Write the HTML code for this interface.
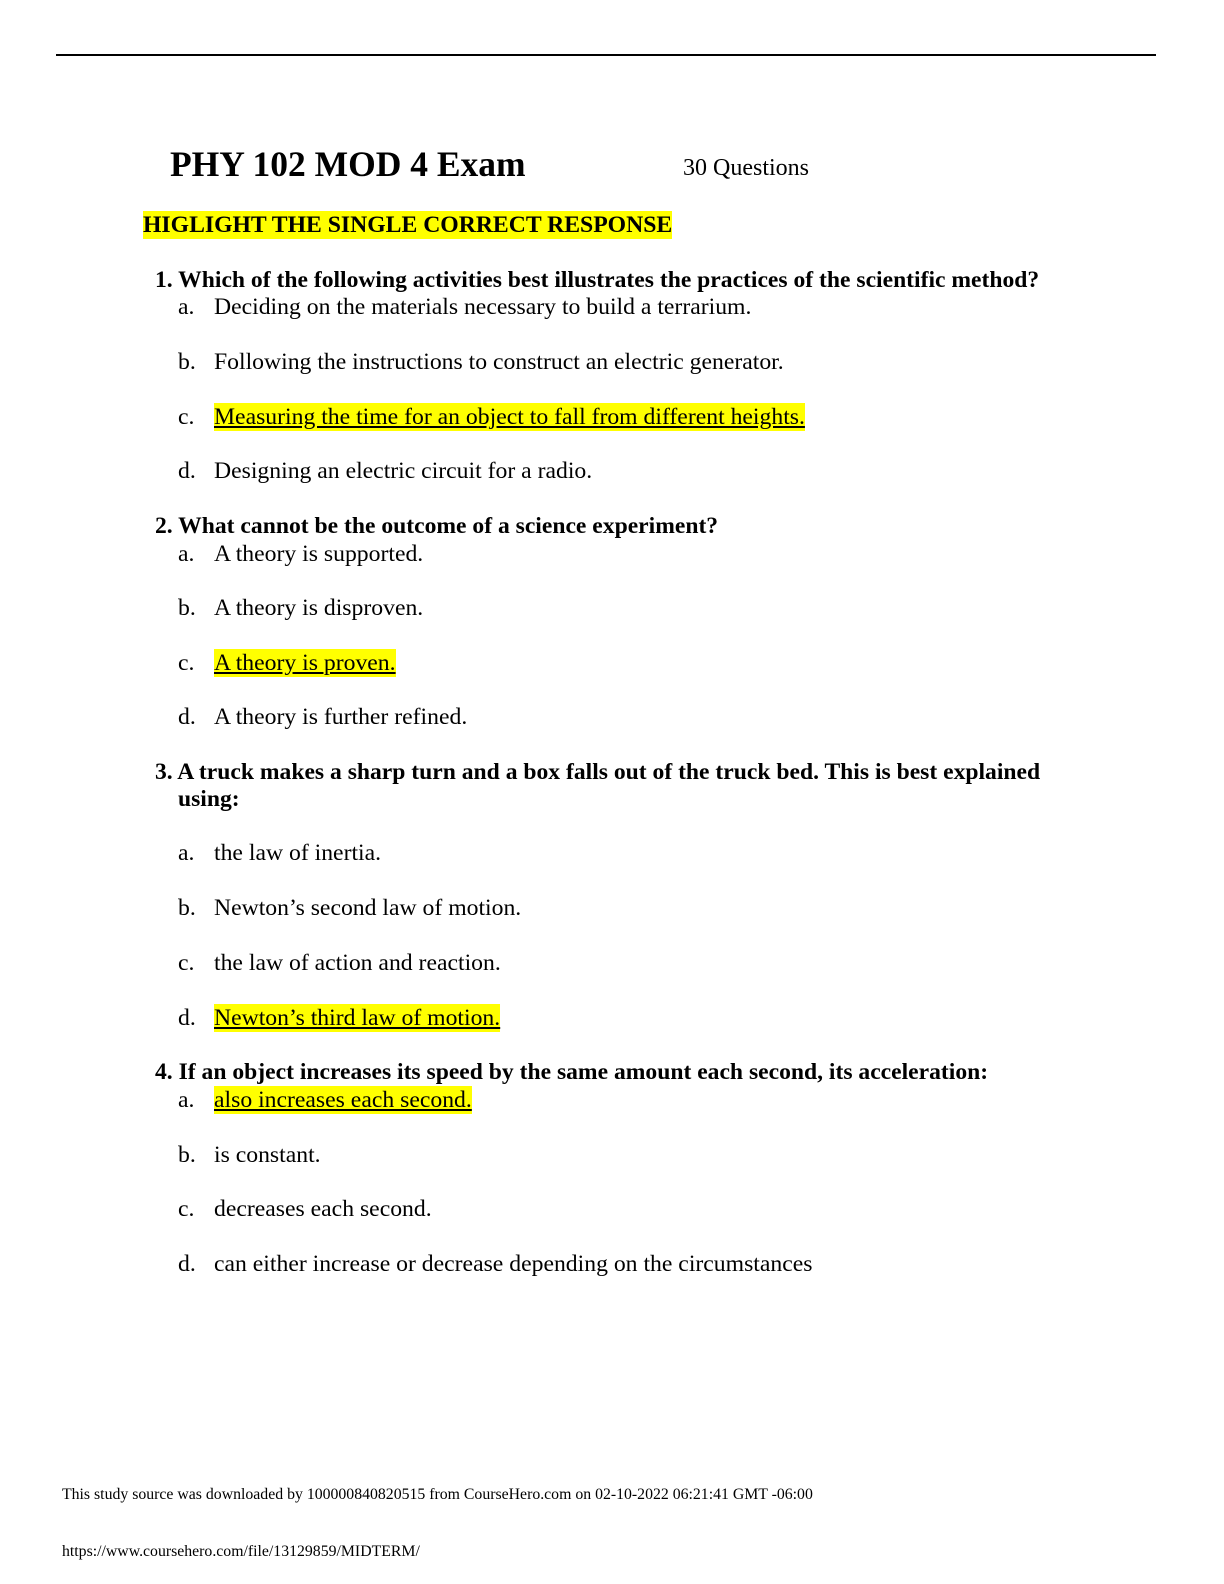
<!DOCTYPE html>
<html><head><meta charset="utf-8"><style>
html,body{margin:0;padding:0;background:#fff}
body{width:1224px;height:1584px;position:relative;overflow:hidden;font-family:"Liberation Serif",serif;color:#000}
.l{position:absolute;white-space:nowrap;line-height:28px;font-size:23.7px}
.b{font-weight:bold;font-size:23.6px}
.h{background:#ffff00;text-decoration:underline}
.lt{position:absolute;left:178px}
.tx{position:absolute;left:214px}
</style></head><body>
<div style="position:absolute;left:56px;top:54px;width:1100px;height:2px;background:#000"></div>
<div class="l b" style="left:170px;top:145px;font-size:35.5px;line-height:38px">PHY 102 MOD 4 Exam</div>
<div class="l" style="left:683px;top:154px;font-size:24px">30 Questions</div>
<div class="l b" style="left:143px;top:211px;font-size:23.7px;line-height:28px;background:#ffff00">HIGLIGHT THE SINGLE CORRECT RESPONSE</div>

<div class="l b" style="left:155px;top:266px">1. Which of the following activities best illustrates the practices of the scientific method?</div>
<div class="l" style="left:0;top:293px;width:1224px"><span class="lt">a.</span><span class="tx">Deciding on the materials necessary to build a terrarium.</span></div>
<div class="l" style="left:0;top:348px;width:1224px"><span class="lt">b.</span><span class="tx">Following the instructions to construct an electric generator.</span></div>
<div class="l" style="left:0;top:403px;width:1224px"><span class="lt">c.</span><span class="tx h">Measuring the time for an object to fall from different heights.</span></div>
<div class="l" style="left:0;top:457px;width:1224px"><span class="lt">d.</span><span class="tx">Designing an electric circuit for a radio.</span></div>

<div class="l b" style="left:155px;top:512px">2. What cannot be the outcome of a science experiment?</div>
<div class="l" style="left:0;top:540px;width:1224px"><span class="lt">a.</span><span class="tx">A theory is supported.</span></div>
<div class="l" style="left:0;top:594px;width:1224px"><span class="lt">b.</span><span class="tx">A theory is disproven.</span></div>
<div class="l" style="left:0;top:649px;width:1224px"><span class="lt">c.</span><span class="tx h">A theory is proven.</span></div>
<div class="l" style="left:0;top:703px;width:1224px"><span class="lt">d.</span><span class="tx">A theory is further refined.</span></div>

<div class="l b" style="left:155px;top:758px">3. A truck makes a sharp turn and a box falls out of the truck bed. This is best explained</div>
<div class="l b" style="left:178px;top:785px">using:</div>
<div class="l" style="left:0;top:839px;width:1224px"><span class="lt">a.</span><span class="tx">the law of inertia.</span></div>
<div class="l" style="left:0;top:894px;width:1224px"><span class="lt">b.</span><span class="tx">Newton’s second law of motion.</span></div>
<div class="l" style="left:0;top:949px;width:1224px"><span class="lt">c.</span><span class="tx">the law of action and reaction.</span></div>
<div class="l" style="left:0;top:1004px;width:1224px"><span class="lt">d.</span><span class="tx h">Newton’s third law of motion.</span></div>

<div class="l b" style="left:155px;top:1058px">4. If an object increases its speed by the same amount each second, its acceleration:</div>
<div class="l" style="left:0;top:1086px;width:1224px"><span class="lt">a.</span><span class="tx h">also increases each second.</span></div>
<div class="l" style="left:0;top:1141px;width:1224px"><span class="lt">b.</span><span class="tx">is constant.</span></div>
<div class="l" style="left:0;top:1195px;width:1224px"><span class="lt">c.</span><span class="tx">decreases each second.</span></div>
<div class="l" style="left:0;top:1250px;width:1224px"><span class="lt">d.</span><span class="tx">can either increase or decrease depending on the circumstances</span></div>

<div class="l" style="left:62px;top:1485px;font-size:15.8px;line-height:20px">This study source was downloaded by 100000840820515 from CourseHero.com on 02-10-2022 06:21:41 GMT -06:00</div>
<div class="l" style="left:62px;top:1542px;font-size:15.8px;line-height:20px">https://www.coursehero.com/file/13129859/MIDTERM/</div>
</body></html>
